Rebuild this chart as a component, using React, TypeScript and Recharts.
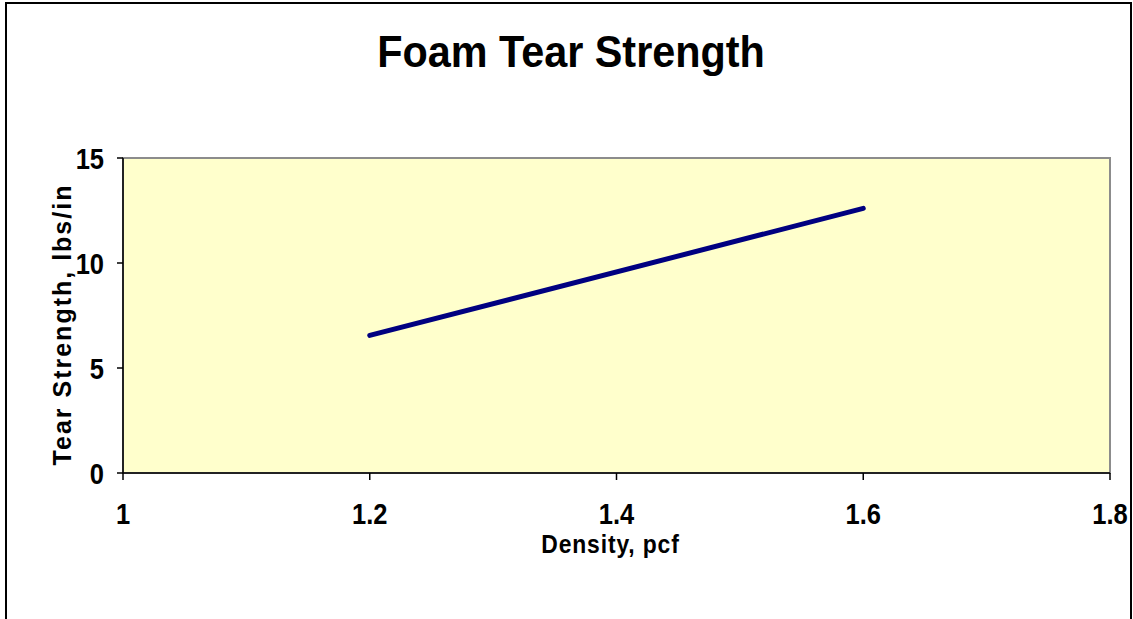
import { LineChart, Line, XAxis, YAxis, ReferenceArea } from "recharts";

const density = [1.2, 1.6];
const tearStrength = [6.55, 12.6];
const xTicks = [1, 1.2, 1.4, 1.6, 1.8];
const yTicks = [0, 5, 10, 15];

const data = density.map((d, i) => ({ density: d, tear: tearStrength[i] }));

const font = "'Liberation Sans', Arial, sans-serif";
const narrow = 0.85;

// labels in the original are narrow and tall, so squeeze them sideways
const squeeze = (x: number, y: number) =>
  `translate(${x} ${y}) scale(${narrow} 1) translate(${-x} ${-y})`;

const XTick = (props: any) => {
  const { x, y, payload } = props;
  return (
    <text
      x={x}
      y={y}
      dy="0.71em"
      textAnchor="middle"
      fill="#000"
      fontSize={30}
      fontWeight="bold"
      fontFamily={font}
      transform={squeeze(x, y)}
    >
      {String(payload.value)}
    </text>
  );
};

const YTick = (props: any) => {
  const { x, y, payload } = props;
  return (
    <text
      x={x}
      y={y}
      dy="0.36em"
      textAnchor="end"
      fill="#000"
      fontSize={30}
      fontWeight="bold"
      fontFamily={font}
      transform={squeeze(x, y)}
    >
      {String(payload.value)}
    </text>
  );
};

const XLabel = (props: any) => {
  const vb = props.viewBox;
  const cx = vb.x + vb.width / 2 - 6;
  const cy = vb.y + 80;
  return (
    <text
      x={cx}
      y={cy}
      textAnchor="middle"
      fill="#000"
      fontSize={26}
      fontWeight="bold"
      fontFamily={font}
      letterSpacing={1}
      transform={`translate(${cx} ${cy}) scale(0.88 1) translate(${-cx} ${-cy})`}
    >
      Density, pcf
    </text>
  );
};

const YLabel = (props: any) => {
  const vb = props.viewBox;
  const cx = vb.x + vb.width - 62 - 60 + 61;
  const cy = vb.y + vb.height / 2 + 9;
  return (
    <text
      x={cx}
      y={cy}
      dy="0.36em"
      textAnchor="middle"
      fill="#000"
      fontSize={25}
      fontWeight="bold"
      fontFamily={font}
      letterSpacing={2}
      transform={`rotate(-90 ${cx} ${cy})`}
    >
      Tear Strength, lbs/in
    </text>
  );
};

export default function App() {
  return (
    <div
      style={{
        position: "absolute",
        left: 0,
        top: 0,
        width: 1133,
        height: 619,
        overflow: "hidden",
        background: "#fff",
        fontFamily: font
      }}
    >
      <div
        style={{
          position: "absolute",
          left: 5,
          top: 2,
          width: 1123,
          height: 700,
          border: "2px solid #000"
        }}
      />
      <div
        style={{
          position: "absolute",
          left: 0,
          width: 1142,
          top: 26,
          textAlign: "center",
          fontWeight: "bold",
          fontSize: 44,
          lineHeight: "52px",
          transform: "scaleX(0.94)"
        }}
      >
        Foam Tear Strength
      </div>
      <LineChart
        width={1133}
        height={619}
        data={data}
        margin={{ top: 158, right: 23, bottom: 56, left: 63 }}
        style={{ position: "absolute", left: 0, top: 0 }}
      >
        <ReferenceArea
          x1={1}
          x2={1.8}
          y1={0}
          y2={15}
          fill="#ffffcc"
          fillOpacity={1}
          stroke="#8c8c8c"
          strokeWidth={2}
        />
        <XAxis
          dataKey="density"
          type="number"
          domain={[1, 1.8]}
          ticks={xTicks}
          height={90}
          stroke="#000"
          strokeWidth={1.5}
          tickSize={7}
          tickMargin={23}
          tick={<XTick />}
          label={<XLabel />}
        />
        <YAxis
          type="number"
          domain={[0, 15]}
          ticks={yTicks}
          width={60}
          stroke="#000"
          strokeWidth={1.5}
          tickSize={6}
          tickMargin={13}
          tick={<YTick />}
          label={<YLabel />}
        />
        <Line
          dataKey="tear"
          stroke="#000080"
          strokeWidth={5}
          strokeLinecap="round"
          dot={false}
          isAnimationActive={false}
        />
      </LineChart>
    </div>
  );
}
